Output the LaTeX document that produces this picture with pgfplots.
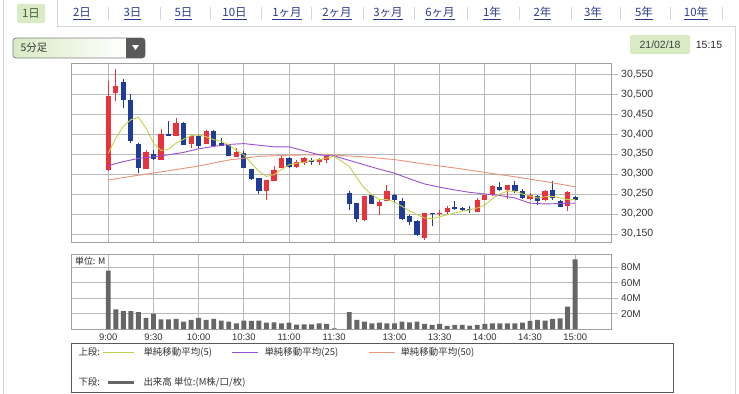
\documentclass[border=0pt]{standalone}
\usepackage{fontspec}
\setmainfont{Liberation Sans}
\newfontfamily\jp{Noto Sans CJK JP}
\usepackage{pgfplots}
\usepackage{pgfplotstable}
\pgfplotsset{compat=1.18}
\definecolor{candleup}{HTML}{E8323C}
\definecolor{candledn}{HTML}{1F3C96}
\definecolor{maA}{HTML}{C5D14B}
\definecolor{maB}{HTML}{9B4FD2}
\definecolor{maC}{HTML}{E8937A}
\definecolor{vol}{HTML}{666666}
\definecolor{gridc}{HTML}{B8B8B8}
\definecolor{framec}{HTML}{A0A0A0}
\definecolor{tabtxt}{HTML}{2B3C8C}
\definecolor{hl}{HTML}{D9EBC4}
\definecolor{bord}{HTML}{D5D6DE}

\pgfplotstableread{
i o h l c
0 30311 30532 30308 30494
1 30502 30562 30482 30519
5 30312 30359 30312 30354
7 30336 30412 30336 30400
9 30396 30440 30396 30427
11 30376 30398 30365 30396
13 30375 30411 30375 30407
17 30342 30365 30342 30354
21 30257 30286 30236 30284
22 30282 30321 30282 30311
23 30315 30344 30315 30340
25 30318 30336 30315 30329
26 30328 30342 30323 30340
28 30330 30340 30323 30337
29 30334 30348 30327 30346
34 30186 30246 30182 30246
36 30219 30236 30198 30229
37 30232 30273 30232 30257
42 30140 30202 30136 30202
44 30199 30211 30196 30202
45 30204 30219 30201 30215
49 30204 30240 30204 30236
50 30236 30248 30236 30248
51 30248 30273 30246 30269
53 30259 30273 30238 30273
56 30238 30252 30236 30247
58 30234 30261 30232 30257
61 30219 30257 30207 30254
}\up

\pgfplotstableread{
i o h l c
2 30529 30537 30465 30486
3 30486 30501 30377 30382
4 30375 30378 30302 30315
6 30351 30359 30336 30338
8 30401 30432 30396 30396
10 30427 30429 30373 30373
12 30394 30398 30365 30371
14 30407 30411 30369 30371
15 30377 30390 30369 30369
16 30372 30375 30344 30344
18 30353 30357 30315 30315
19 30312 30312 30284 30288
20 30290 30290 30251 30257
24 30340 30342 30315 30317
27 30336 30340 30323 30330
30 30346 30347 30343 30344
32 30252 30257 30211 30226
33 30227 30227 30179 30188
35 30247 30249 30224 30226
38 30247 30251 30227 30234
39 30232 30240 30186 30188
40 30196 30198 30173 30179
41 30182 30186 30146 30148
43 30202 30202 30169 30200
46 30218 30232 30211 30212
47 30215 30217 30207 30209
48 30212 30219 30202 30210
52 30267 30279 30257 30259
54 30273 30282 30252 30257
55 30257 30263 30237 30240
57 30244 30248 30223 30233
59 30261 30282 30235 30240
60 30232 30236 30218 30218
62 30242 30244 30236 30236
}\down

\pgfplotstableread{
i v
0 75.6
1 25.5
2 23.3
3 23.3
4 22
5 14.3
6 19.9
7 12.5
8 12.5
9 13
10 9.5
11 11.7
12 14.3
13 11.7
14 13
15 10.8
16 9.5
17 7.3
18 10.8
19 10.4
20 10.8
21 8.2
22 8.6
23 7.3
24 8.2
25 5.6
26 6
27 6
28 7.3
29 6.5
30 0.8
32 22
33 11.7
34 9.5
35 7.3
36 8.2
37 7.3
38 7.3
39 9.5
40 8.6
41 9.5
42 6.5
43 5.2
44 6.5
45 3.9
46 5.2
47 5.2
48 4.3
49 5.2
50 6.5
51 7.3
52 7.3
53 7.3
54 7.3
55 8.2
56 10.4
57 11.7
58 10.8
59 13
60 13.8
61 28.9
62 90.3
}\volume

\pgfplotsset{
  candle/.style={only marks, mark=*, mark size=0pt, mark options={draw=none, fill=none},
    error bars/.cd, y dir=plus, y explicit, error mark=none,
    error bar style={line width=#1}},
}

\begin{document}
\begin{tikzpicture}
\path[use as bounding box] (0,0) rectangle (739bp,-394bp);

\begin{scope}[x=1bp,y=-1bp]
% borders
\draw[bord, line width=0.8bp] (3,0) -- (3,394);
\draw[bord, line width=0.8bp] (57,0) -- (57,26) -- (735,26) -- (735,394);
% tabs
\fill[hl, rounded corners=2bp] (17,4) rectangle (45,23);
\node[font=\jp\fontsize{11.5}{13}\selectfont, text={rgb,255:red,70;green,95;blue,50}] at (31,13.5) {1日};
\foreach \xx/\lab in {82/2日,132.5/3日,183.5/5日,234.5/10日,287/1ヶ月,337/2ヶ月,388/3ヶ月,440/6ヶ月,492/1年,542.5/2年,593/3年,644/5年,696/10年}{
  \node[font=\jp\fontsize{11.5}{13}\selectfont, text=tabtxt] at (\xx,13.5) {\underline{\lab}};
}
\foreach \xx in {108.5,160,210,261,311,363,414,467,519,571,620,670,722}{
  \draw[bord, line width=0.8bp] (\xx,7) -- (\xx,20);
}
% dropdown
\shade[left color=hl, right color=white, rounded corners=3bp] (13,38) rectangle (126,58);
\draw[gray, line width=0.8bp, rounded corners=3bp] (13,38) rectangle (145,58);
\fill[rounded corners=3bp, black!65] (126,38) rectangle (145,58);
\fill[black!65] (126,38) rectangle (132,58);
\fill[white] (132,45) -- (139,45) -- (135.5,50) -- cycle;
\node[font=\jp\fontsize{10.5}{12}\selectfont, anchor=west, text=black!80] at (17,48) {5分足};
% date
\fill[hl, rounded corners=2bp] (630,35) rectangle (690,54);
\node[font=\fontsize{10.5}{12}\selectfont, text=black!75] at (660,44.5) {21/02/18};
\node[font=\fontsize{10.5}{12}\selectfont, text=black!85] at (709,44.5) {15:15};
% legend
\draw[black!65, line width=1bp] (71,343) rectangle (673,392);
\node[font=\jp\fontsize{9.5}{11}\selectfont, anchor=west, text=black!80] at (75,352) {上段:};
\draw[maA, line width=1bp] (103,352) -- (134,352);
\node[font=\jp\fontsize{9.5}{11}\selectfont, anchor=west, text=black!80] at (140,352) {単純移動平均(5)};
\draw[maB, line width=1bp] (232,352) -- (258,352);
\node[font=\jp\fontsize{9.5}{11}\selectfont, anchor=west, text=black!80] at (261,352) {単純移動平均(25)};
\draw[maC, line width=1bp] (369,352) -- (395,352);
\node[font=\jp\fontsize{9.5}{11}\selectfont, anchor=west, text=black!80] at (397,352) {単純移動平均(50)};
\node[font=\jp\fontsize{9.5}{11}\selectfont, anchor=west, text=black!80] at (75,382) {下段:};
\draw[vol, line width=3bp] (108,382) -- (134,382);
\node[font=\jp\fontsize{9.5}{11}\selectfont, anchor=west, text=black!80] at (140,382) {出来高 単位:(M株/口/枚)};
\end{scope}

% price axis
\begin{axis}[
  at={(71.7bp,-242.7bp)}, anchor=south west, scale only axis,
  width=540bp, height=179.4bp,
  xmin=-4.86, xmax=66.85, ymin=30128, ymax=30577,
  xtick={0,6,12,18,24,30,38,44,50,56,62}, xticklabels={},
  xtick style={draw=none},
  ytick={30150,30200,30250,30300,30350,30400,30450,30500,30550},
  ytick pos=right, yticklabel pos=right, tick align=outside,
  major tick length=6bp,
  ytick style={draw=gridc, line width=0.8bp},
  grid=major, grid style={gridc, line width=0.8bp},
  axis line style={framec, line width=0.8bp},
  scaled y ticks=false,
  yticklabel style={font=\fontsize{10.5}{12}\selectfont, text=black!80,
    /pgf/number format/.cd, fixed, 1000 sep={,}, assume math mode=true},
]
\addplot[candle=0.9bp, error bar style={candleup}]
  table[x=i, y=l, y error plus expr=\thisrow{h}-\thisrow{l}] {\up};
\addplot[candle=0.9bp, error bar style={candledn}]
  table[x=i, y=l, y error plus expr=\thisrow{h}-\thisrow{l}] {\down};
\addplot[candle=5.2bp, error bar style={candleup}]
  table[x=i, y=o, y error plus expr=\thisrow{c}-\thisrow{o}] {\up};
\addplot[candle=5.2bp, error bar style={candledn}]
  table[x=i, y=c, y error plus expr=\thisrow{o}-\thisrow{c}] {\down};
\addplot[maC, line width=0.9bp, mark=none] coordinates {(0,30285)(4,30297)(8,30308)(12,30320)(16,30335)(20,30344)(24,30347)(28,30348)(30,30347)(34,30343)(38,30336)(42,30325)(46,30315)(50,30304)(54,30293)(58,30281)(62,30268)};
\addplot[maB, line width=0.9bp, mark=none] coordinates {(0,30321)(2,30331)(4,30339)(6,30343)(8,30348)(10,30354)(12,30363)(14,30369)(16,30374)(18,30376)(20,30372)(22,30368)(24,30368)(26,30358)(28,30348)(30,30345)(32,30334)(34,30323)(36,30312)(38,30302)(40,30288)(42,30275)(44,30267)(46,30260)(48,30254)(50,30250)(52,30246)(54,30240)(56,30227)(58,30225)(60,30226)(62,30227)};
\addplot[maA, line width=0.9bp, mark=none] coordinates {(0,30352)(1,30390)(2,30419)(3,30436)(4,30442)(5,30415)(6,30377)(7,30359)(8,30362)(9,30377)(10,30387)(11,30396)(12,30398)(13,30393)(14,30386)(15,30382)(16,30373)(17,30359)(18,30348)(19,30327)(20,30307)(21,30294)(22,30298)(23,30311)(24,30323)(25,30327)(26,30329)(27,30334)(28,30336)(29,30340)(30,30344)(32,30319)(33,30290)(34,30265)(35,30248)(36,30236)(37,30236)(38,30230)(39,30219)(40,30208)(41,30198)(42,30190)(43,30188)(44,30193)(45,30198)(46,30202)(47,30207)(48,30210)(49,30215)(50,30222)(51,30238)(52,30250)(53,30257)(54,30257)(55,30250)(56,30245)(57,30240)(58,30243)(59,30244)(60,30240)(61,30236)(62,30236)};
\end{axis}

% volume axis
\begin{axis}[
  at={(71.7bp,-329bp)}, anchor=south west, scale only axis,
  width=540bp, height=75bp,
  xmin=-4.86, xmax=66.85, ymin=0, ymax=97.2,
  xtick={0,6,12,18,24,30,38,44,50,56,62},
  xticklabels={9:00,9:30,10:00,10:30,11:00,11:30,13:00,13:30,14:00,14:30,15:00},
  xtick style={draw=none},
  xticklabel style={font=\fontsize{9.5}{11}\selectfont, text=black!80, yshift=4.5bp},
  ytick={20,40,60,80}, yticklabels={20M,40M,60M,80M},
  ytick pos=right, yticklabel pos=right, tick align=outside,
  major tick length=6bp,
  ytick style={draw=gridc, line width=0.8bp},
  grid=major, grid style={gridc, line width=0.8bp},
  axis line style={framec, line width=0.8bp},
  yticklabel style={font=\fontsize{10}{12}\selectfont, text=black!80},
]
\addplot[ybar, bar width=0.65, fill=vol, draw=none] table[x=i, y=v] {\volume};
\node[anchor=north west, font=\jp\fontsize{9}{10}\selectfont, text=black!85, inner sep=1bp] at (rel axis cs:0.004,0.97) {単位: M};
\end{axis}
\end{tikzpicture}
\end{document}
